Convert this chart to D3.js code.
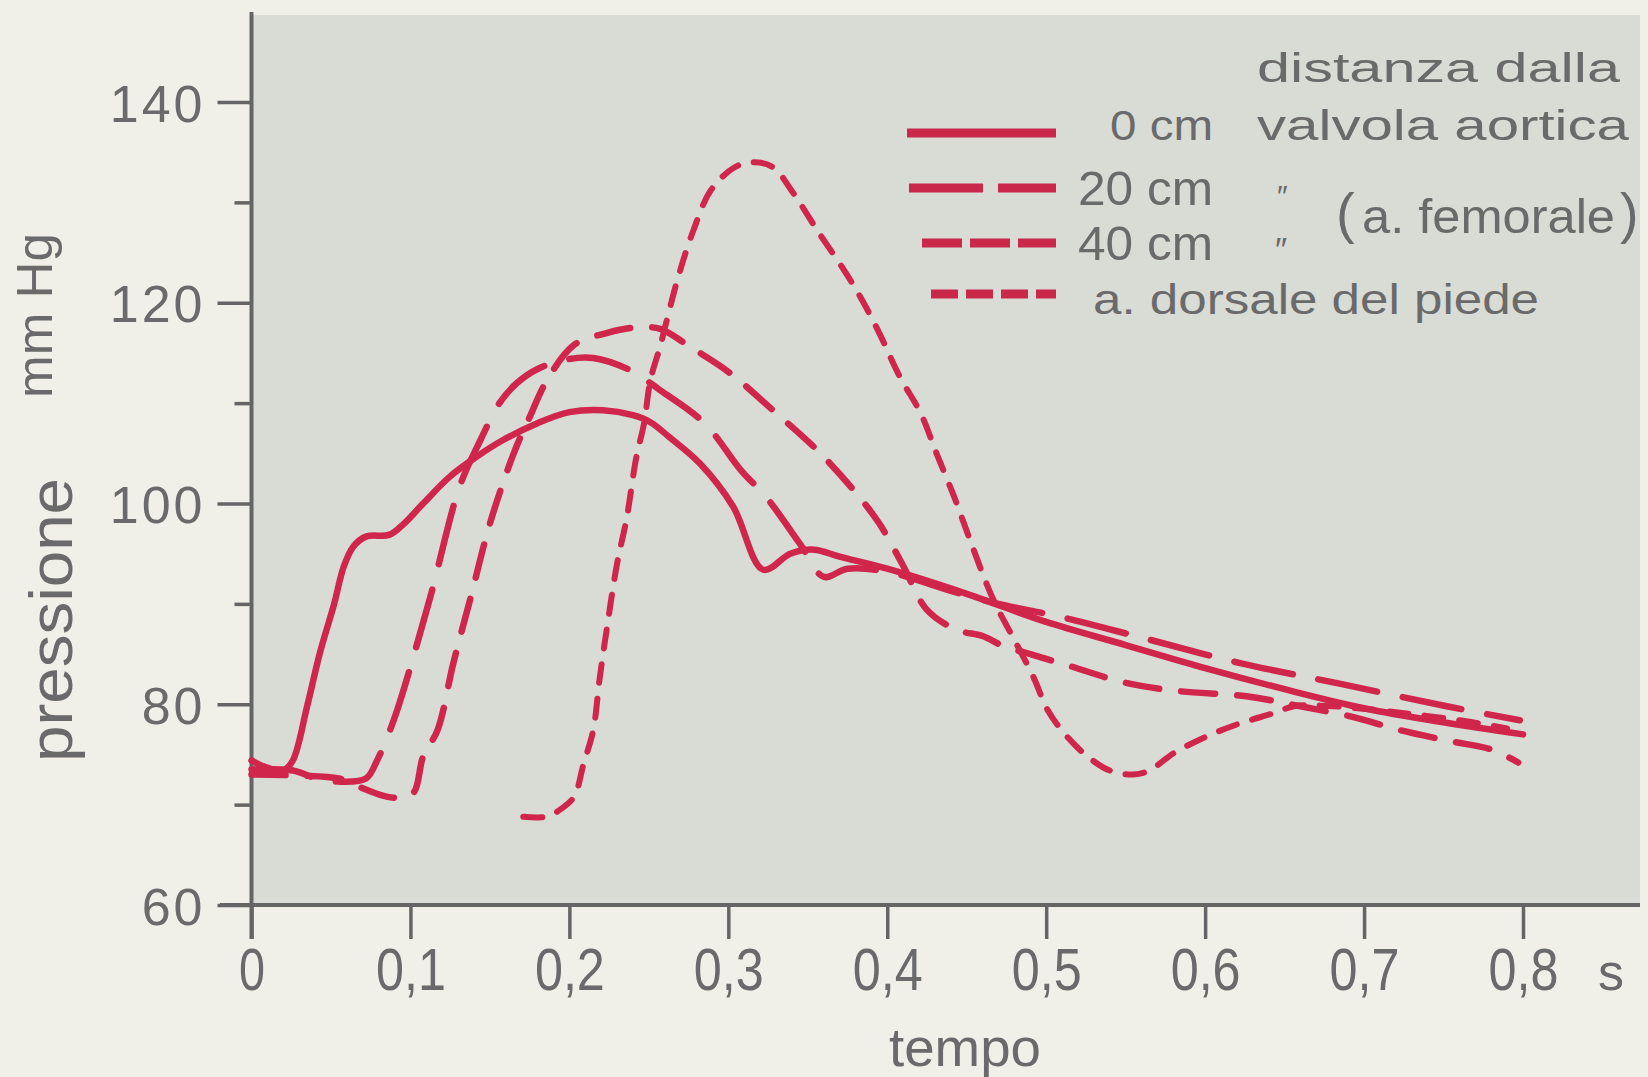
<!DOCTYPE html>
<html>
<head>
<meta charset="utf-8">
<title>Pressione arteriosa</title>
<script src="https://d3js.org/d3.v7.min.js"></script>
<style>
  body { margin: 0; background: #f0efe8; }
  svg { display: block; }
</style>
</head>
<body>
<script>
// tempo (s) e pressione (mm Hg)
var t0 = [0, 0.008, 0.02, 0.026, 0.035, 0.043, 0.052, 0.058, 0.064, 0.072, 0.087, 0.096, 0.108, 0.125, 0.142, 0.158, 0.18, 0.2, 0.221, 0.24, 0.251, 0.263, 0.282, 0.303, 0.322, 0.339, 0.354, 0.37, 0.4, 0.45, 0.5, 0.55, 0.6, 0.65, 0.7, 0.75, 0.8];
var p0 = [74.4, 73.8, 73.4, 74.4, 79.8, 85.1, 90.0, 93.7, 95.7, 96.7, 96.9, 98.0, 100.0, 102.7, 104.7, 106.3, 108.0, 109.1, 109.3, 108.8, 108.1, 106.6, 104.0, 99.7, 93.4, 95.0, 95.4, 94.7, 93.5, 91.0, 88.2, 85.9, 83.6, 81.5, 79.6, 78.2, 77.0];

var t20 = [0, 0.026, 0.041, 0.054, 0.072, 0.079, 0.083, 0.091, 0.112, 0.131, 0.144, 0.156, 0.167, 0.18, 0.2, 0.215, 0.238, 0.257, 0.285, 0.308, 0.324, 0.345, 0.36, 0.375, 0.4, 0.44, 0.47, 0.509, 0.561, 0.622, 0.683, 0.752, 0.798];
var p20 = [73.5, 73.4, 72.6, 72.3, 72.6, 74.4, 75.8, 79.1, 90.4, 101.7, 106.3, 110.0, 112.0, 113.4, 114.4, 114.5, 113.3, 111.3, 108.0, 103.3, 100.6, 96.0, 92.7, 93.5, 93.2, 91.3, 90.0, 88.7, 86.6, 84.1, 82.1, 79.8, 78.4];

var t40 = [0, 0.03, 0.055, 0.072, 0.085, 0.093, 0.102, 0.108, 0.117, 0.127, 0.138, 0.15, 0.165, 0.175, 0.186, 0.203, 0.224, 0.24, 0.257, 0.276, 0.301, 0.328, 0.356, 0.379, 0.395, 0.41, 0.425, 0.444, 0.46, 0.473, 0.49, 0.515, 0.551, 0.584, 0.626, 0.66, 0.694, 0.723, 0.755, 0.78, 0.797];
var p40 = [73.0, 72.9, 72.6, 71.5, 70.8, 70.7, 71.2, 74.8, 77.4, 84.1, 90.7, 98.0, 105.0, 108.6, 112.3, 115.8, 117.0, 117.5, 117.4, 115.6, 113.0, 109.3, 105.3, 101.3, 98.0, 93.8, 89.4, 87.4, 86.8, 85.8, 85.0, 83.8, 82.1, 81.3, 80.8, 79.8, 78.7, 77.4, 76.3, 75.5, 74.2];

var tPiede = [0.171, 0.186, 0.195, 0.203, 0.209, 0.215, 0.219, 0.224, 0.23, 0.236, 0.242, 0.247, 0.251, 0.257, 0.268, 0.278, 0.289, 0.304, 0.316, 0.328, 0.341, 0.356, 0.373, 0.383, 0.394, 0.408, 0.421, 0.431, 0.442, 0.452, 0.461, 0.468, 0.48, 0.492, 0.501, 0.513, 0.526, 0.54, 0.555, 0.565, 0.58, 0.601, 0.622, 0.643, 0.656, 0.68, 0.72, 0.76, 0.79];
var pPiede = [68.8, 68.8, 69.6, 70.8, 74.1, 77.4, 82.5, 88.0, 94.0, 98.5, 104.5, 108.0, 112.3, 115.6, 122.3, 127.2, 131.2, 133.5, 134.0, 133.5, 130.9, 127.2, 123.2, 120.6, 117.3, 112.6, 109.0, 105.0, 100.7, 96.4, 92.6, 90.0, 86.4, 82.7, 79.4, 76.8, 74.8, 73.4, 73.0, 73.4, 75.1, 76.8, 78.1, 79.1, 79.8, 79.8, 79.2, 78.4, 77.6];

var xTicks = [0, 0.1, 0.2, 0.3, 0.4, 0.5, 0.6, 0.7, 0.8];
var yMajor = [60, 80, 100, 120, 140];
var yMinor = [70, 90, 110, 130];
var legendLabels = ["0 cm", "20 cm", "40 cm", "a. dorsale del piede"];

var red = "#d1264c", grey = "#6a6a6a", axisCol = "#656565";
var font = "'Liberation Sans', Arial, sans-serif";

var w = 1648, h = 1077;
var svg = d3.select("body").append("svg")
    .attr("width", w)
    .attr("height", h)
    .attr("font-family", font);

svg.append("rect").attr("width", w).attr("height", h).attr("fill", "#f0efe8");

var x = d3.scaleLinear().domain([0, 0.8]).range([251.5, 1523]);
var y = d3.scaleLinear().domain([60, 140]).range([905, 102]);

// fondo grigio del grafico
svg.append("rect")
   .attr("x", x(0)).attr("y", 15)
   .attr("width", 1640 - x(0)).attr("height", y(60) - 15)
   .attr("fill", "#d9dbd5");

// asse x
var gx = svg.append("g")
    .attr("transform", "translate(0," + y(60) + ")")
    .call(d3.axisBottom(x).tickValues(xTicks).tickSize(34)
        .tickFormat(function(d){ return d === 0 ? "0" : d.toFixed(1).replace(".", ","); }));
gx.select(".domain").remove();
gx.selectAll("line").attr("stroke", axisCol).attr("stroke-width", 3.5);
gx.selectAll("text")
  .attr("y", 85).attr("dy", null)
  .attr("font-size", 60).attr("font-family", font).attr("fill", grey)
  .attr("textLength", function(d){ return d === 0 ? 26 : 70; })
  .attr("lengthAdjust", "spacingAndGlyphs");

// asse y
var gy = svg.append("g")
    .attr("transform", "translate(" + x(0) + ",0)")
    .call(d3.axisLeft(y).tickValues(yMajor).tickSize(34).tickFormat(d3.format("d")));
gy.select(".domain").remove();
gy.selectAll("line").attr("stroke", axisCol).attr("stroke-width", 3.5);
gy.selectAll("text")
  .attr("x", -46).attr("dy", 19)
  .attr("font-size", 52).attr("font-family", font).attr("fill", grey)
  .attr("letter-spacing", 3);

var gy2 = svg.append("g")
    .attr("transform", "translate(" + x(0) + ",0)")
    .call(d3.axisLeft(y).tickValues(yMinor).tickSize(17).tickFormat(""));
gy2.select(".domain").remove();
gy2.selectAll("line").attr("stroke", axisCol).attr("stroke-width", 3.5);

svg.append("line")
   .attr("x1", x(0)).attr("x2", x(0)).attr("y1", 12).attr("y2", y(60) + 34)
   .attr("stroke", axisCol).attr("stroke-width", 4);
svg.append("line")
   .attr("x1", 220).attr("x2", 1640).attr("y1", y(60)).attr("y2", y(60))
   .attr("stroke", axisCol).attr("stroke-width", 4);

svg.append("text").attr("x", 1598).attr("y", 990)
   .attr("font-size", 52).attr("fill", grey).text("s");
svg.append("text").attr("x", 889).attr("y", 1066)
   .attr("font-size", 54).attr("fill", grey)
   .attr("textLength", 152).attr("lengthAdjust", "spacingAndGlyphs")
   .text("tempo");
svg.append("text").attr("transform", "translate(72,762) rotate(-90)")
   .attr("font-size", 62).attr("fill", grey)
   .attr("textLength", 284).attr("lengthAdjust", "spacingAndGlyphs")
   .text("pressione");
svg.append("text").attr("transform", "translate(52,398) rotate(-90)")
   .attr("font-size", 50).attr("fill", grey)
   .attr("textLength", 165).attr("lengthAdjust", "spacingAndGlyphs")
   .text("mm Hg");

// curve
function pts(ts, ps) { return ts.map(function(t, i){ return [t, ps[i]]; }); }
var series = [
  { data: pts(t0, p0),         dash: null,    width: 6.5 },
  { data: pts(t20, p20),       dash: "60,26", width: 6.5 },
  { data: pts(t40, p40),       dash: "34,22", width: 6.5 },
  { data: pts(tPiede, pPiede), dash: "19,16", width: 6 }
];

var line = d3.line()
    .x(function(d){ return x(d[0]); })
    .y(function(d){ return y(d[1]); })
    .curve(d3.curveCatmullRom.alpha(0.5));

svg.selectAll("path.curve")
   .data(series)
   .enter()
   .append("path")
   .attr("class", "curve")
   .attr("d", function(d){ return line(d.data); })
   .attr("fill", "none")
   .attr("stroke", red)
   .attr("stroke-width", function(d){ return d.width; })
   .attr("stroke-linecap", "round")
   .attr("stroke-linejoin", "round")
   .attr("stroke-dasharray", function(d){ return d.dash; });

// legenda
var legendRows = [
  { x1: 907, y: 133, dash: null,    tx: 1110, ty: 140, size: 42, len: 103 },
  { x1: 909, y: 188, dash: "74,15", tx: 1078, ty: 205, size: 48, len: 135 },
  { x1: 922, y: 243, dash: "40,8",  tx: 1078, ty: 260, size: 48, len: 135 },
  { x1: 931, y: 294, dash: "27,8",  tx: 1093, ty: 314, size: 43, len: 446 }
];
var lg = svg.append("g");
lg.selectAll("line")
  .data(legendRows)
  .enter().append("line")
  .attr("x1", function(d){ return d.x1; }).attr("x2", 1056)
  .attr("y1", function(d){ return d.y; }).attr("y2", function(d){ return d.y; })
  .attr("stroke", "#c9284b").attr("stroke-width", 9)
  .attr("stroke-dasharray", function(d){ return d.dash; });
lg.selectAll("text")
  .data(legendRows)
  .enter().append("text")
  .attr("x", function(d){ return d.tx; }).attr("y", function(d){ return d.ty; })
  .attr("font-size", function(d){ return d.size; })
  .attr("textLength", function(d){ return d.len; })
  .attr("lengthAdjust", "spacingAndGlyphs")
  .attr("fill", grey)
  .text(function(d, i){ return legendLabels[i]; });

lg.append("text").attr("x", 1257).attr("y", 82).attr("font-size", 41)
  .attr("textLength", 363).attr("lengthAdjust", "spacingAndGlyphs")
  .attr("fill", grey).text("distanza dalla");
lg.append("text").attr("x", 1257).attr("y", 140).attr("font-size", 43)
  .attr("textLength", 372).attr("lengthAdjust", "spacingAndGlyphs")
  .attr("fill", grey).text("valvola aortica");
lg.append("text").attr("x", 1277).attr("y", 206).attr("font-size", 30)
  .attr("fill", grey).text("″");
lg.append("text").attr("x", 1275).attr("y", 261).attr("font-size", 34)
  .attr("fill", grey).text("″");
lg.append("text").attr("x", 1336).attr("y", 232).attr("font-size", 56)
  .attr("fill", grey).text("(");
lg.append("text").attr("x", 1362).attr("y", 233).attr("font-size", 49)
  .attr("textLength", 253).attr("lengthAdjust", "spacingAndGlyphs")
  .attr("fill", grey).text("a. femorale");
lg.append("text").attr("x", 1620).attr("y", 232).attr("font-size", 56)
  .attr("fill", grey).text(")");
</script>
</body>
</html>
